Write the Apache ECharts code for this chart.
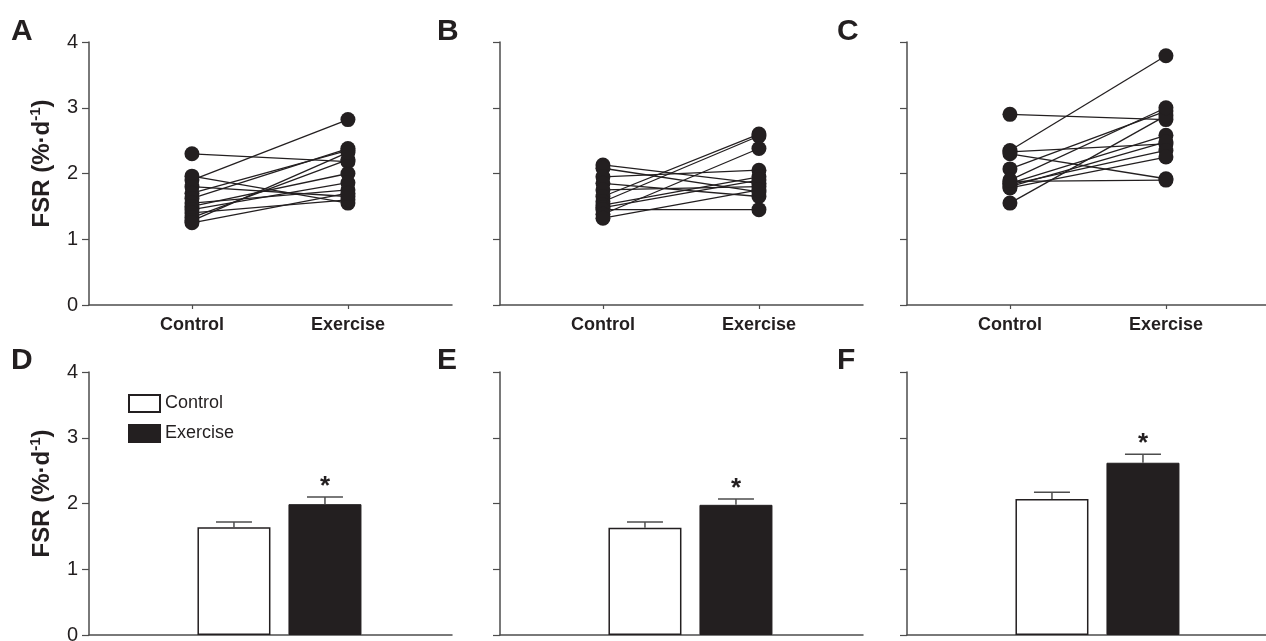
<!DOCTYPE html>
<html><head><meta charset="utf-8">
<script src="https://cdn.jsdelivr.net/npm/echarts@6/dist/echarts.min.js"></script>
<style>html,body{margin:0;padding:0;background:#fff}#c{width:1266px;height:641px}</style>
</head><body><div id="c"></div>
<script>
// ---- data ----
const groups = ['Control', 'Exercise'];
const panelLetters = ['A', 'B', 'C', 'D', 'E', 'F'];
const yMin = 0, yMax = 4, yStep = 1;

// individual subjects (panels A-C): control value, exercise value
const aControl  = [2.30, 1.90, 1.96, 1.80, 1.70, 1.62, 1.55, 1.50, 1.45, 1.40, 1.33, 1.28, 1.25];
const aExercise = [2.18, 2.82, 1.55, 1.65, 2.35, 2.38, 1.75, 2.00, 1.86, 1.60, 2.21, 2.32, 1.70];
const bControl  = [2.13, 2.08, 1.95, 1.85, 1.75, 1.65, 1.57, 1.52, 1.48, 1.45, 1.38, 1.32];
const bExercise = [1.85, 1.72, 2.05, 1.65, 1.80, 2.60, 2.57, 1.95, 1.90, 1.45, 2.38, 1.75];
const cControl  = [2.90, 2.35, 2.30, 2.33, 2.07, 1.55, 1.88, 1.85, 1.80, 1.83, 1.78, 1.90];
const cExercise = [2.82, 3.79, 1.92, 2.45, 2.95, 2.88, 1.90, 2.58, 2.48, 2.35, 2.25, 3.00];

// group means (panels D-F): [Control, Exercise]
const dMeans = [1.64, 1.99]; const dErrors = [0.08, 0.11]; const dStars = [0, 1];
const eMeans = [1.63, 1.98]; const eErrors = [0.09, 0.09]; const eStars = [0, 1];
const fMeans = [2.07, 2.62]; const fErrors = [0.10, 0.13]; const fStars = [0, 1];

// ---- styling / layout ----
const ink = '#231f20', axisInk = '#4d4d4d';
const font = 'Arial, "Liberation Sans", Helvetica, sans-serif';
const colLeft = [89, 500, 907];
const rowTop = [42, 372];
const gW = 363, gH = 263;

const pairs = [[aControl, aExercise], [bControl, bExercise], [cControl, cExercise]];
const bars = [[dMeans, dErrors, dStars], [eMeans, eErrors, eStars], [fMeans, fErrors, fStars]];

const grids = [], xAxes = [], yAxes = [], series = [], titles = [];

for (let r = 0; r < 2; r++) {
  for (let c = 0; c < 3; c++) {
    const idx = r * 3 + c;
    grids.push({ left: colLeft[c], top: rowTop[r], width: gW, height: gH,
      containLabel: false, outerBoundsMode: 'none' });
    if (r === 0) {
      xAxes.push({
        type: 'value', gridIndex: idx, min: 0.34, max: 2.667,
        axisLine: { show: true, onZero: false, lineStyle: { color: axisInk, width: 1.5 } },
        axisTick: { show: true, customValues: [1, 2], length: 4, lineStyle: { color: axisInk, width: 1.2 } },
        axisLabel: { show: true, customValues: [1, 2], formatter: v => groups[Math.round(v) - 1],
          fontSize: 18, fontWeight: 'bold', color: ink, fontFamily: font, margin: 11 },
        splitLine: { show: false }
      });
    } else {
      xAxes.push({
        type: 'value', gridIndex: idx, min: -0.593, max: 3.396,
        axisLine: { show: true, onZero: false, lineStyle: { color: axisInk, width: 1.5 } },
        axisTick: { show: false }, axisLabel: { show: false }, splitLine: { show: false }
      });
    }
    const y = {
      type: 'value', gridIndex: idx, min: yMin, max: yMax, interval: yStep,
      axisLine: { show: true, onZero: false, lineStyle: { color: axisInk, width: 1.5 } },
      axisTick: { show: true, length: 7, lineStyle: { color: axisInk, width: 1.2 } },
      axisLabel: { show: c === 0, fontSize: 20, color: ink, fontFamily: font, margin: 11 },
      splitLine: { show: false }
    };
    if (c === 0) {
      y.name = '{b|FSR (%·d}{s|-1}{b|)}';
      y.nameLocation = 'middle';
      y.nameGap = 33;
      y.nameTextStyle = {
        padding: [0, 0, 0, 20],
        rich: {
          b: { fontSize: 24, fontWeight: 'bold', color: ink, fontFamily: font, lineHeight: 28 },
          s: { fontSize: 15, fontWeight: 'bold', color: ink, fontFamily: font, verticalAlign: 'top', lineHeight: 15 }
        }
      };
    }
    yAxes.push(y);

    titles.push({
      text: panelLetters[idx], left: [11, 437, 837][c], top: [17, 346][r], padding: 0,
      textStyle: { fontSize: 30, fontWeight: 'bold', color: ink, fontFamily: font }
    });

    if (r === 0) {
      const [ctl, ex] = pairs[c];
      for (let i = 0; i < ctl.length; i++) {
        series.push({
          type: 'line', name: 'S' + idx + '_' + i, xAxisIndex: idx, yAxisIndex: idx,
          data: [[1, ctl[i]], [2, ex[i]]],
          symbol: 'circle', symbolSize: 15, showSymbol: true,
          lineStyle: { color: ink, width: 1.3 },
          itemStyle: { color: ink, borderWidth: 0 },
          silent: true, z: 3
        });
      }
    } else {
      const [means, errs, stars] = bars[c];
      series.push({
        type: 'bar', name: groups[0], xAxisIndex: idx, yAxisIndex: idx,
        data: [[1, means[0]]], barWidth: 73, barGap: '-100%',
        itemStyle: { color: '#ffffff', borderColor: ink, borderWidth: 1.5 }, silent: true
      });
      series.push({
        type: 'bar', name: groups[1], xAxisIndex: idx, yAxisIndex: idx,
        data: [[2, means[1]]], barWidth: 73, barGap: '-100%',
        itemStyle: { color: ink, borderColor: ink, borderWidth: 1 }, silent: true
      });
      series.push({
        type: 'custom', name: 'err' + idx, xAxisIndex: idx, yAxisIndex: idx, z: 5, silent: true,
        data: [[1, means[0], errs[0], stars[0]], [2, means[1], errs[1], stars[1]]],
        encode: { x: 0, y: 1 },
        renderItem: function (params, api) {
          const x = api.value(0), m = api.value(1), e = api.value(2), s = api.value(3);
          const base = api.coord([x, m]);
          const top = api.coord([x, m + e]);
          const children = [
            { type: 'line', shape: { x1: base[0], y1: base[1], x2: top[0], y2: top[1] },
              style: { stroke: axisInk, lineWidth: 1.5 } },
            { type: 'line', shape: { x1: top[0] - 18, y1: top[1], x2: top[0] + 18, y2: top[1] },
              style: { stroke: axisInk, lineWidth: 1.5 } }
          ];
          if (s) {
            children.push({ type: 'text', style: { text: '*', x: top[0], y: top[1] + 3,
              align: 'center', verticalAlign: 'bottom', font: 'bold 26px ' + font, fill: ink } });
          }
          return { type: 'group', children: children };
        }
      });
    }
  }
}

const chart = echarts.init(document.getElementById('c'), null, { renderer: 'canvas' });
chart.setOption({
  animation: false,
  backgroundColor: '#ffffff',
  title: titles,
  legend: {
    data: groups, orient: 'vertical', left: 128, top: 394, padding: 0,
    itemWidth: 31, itemHeight: 17, itemGap: 11, icon: 'rect', selectedMode: false,
    textStyle: { fontSize: 18, color: ink, fontFamily: font }
  },
  grid: grids, xAxis: xAxes, yAxis: yAxes, series: series
});
</script>
</body></html>
